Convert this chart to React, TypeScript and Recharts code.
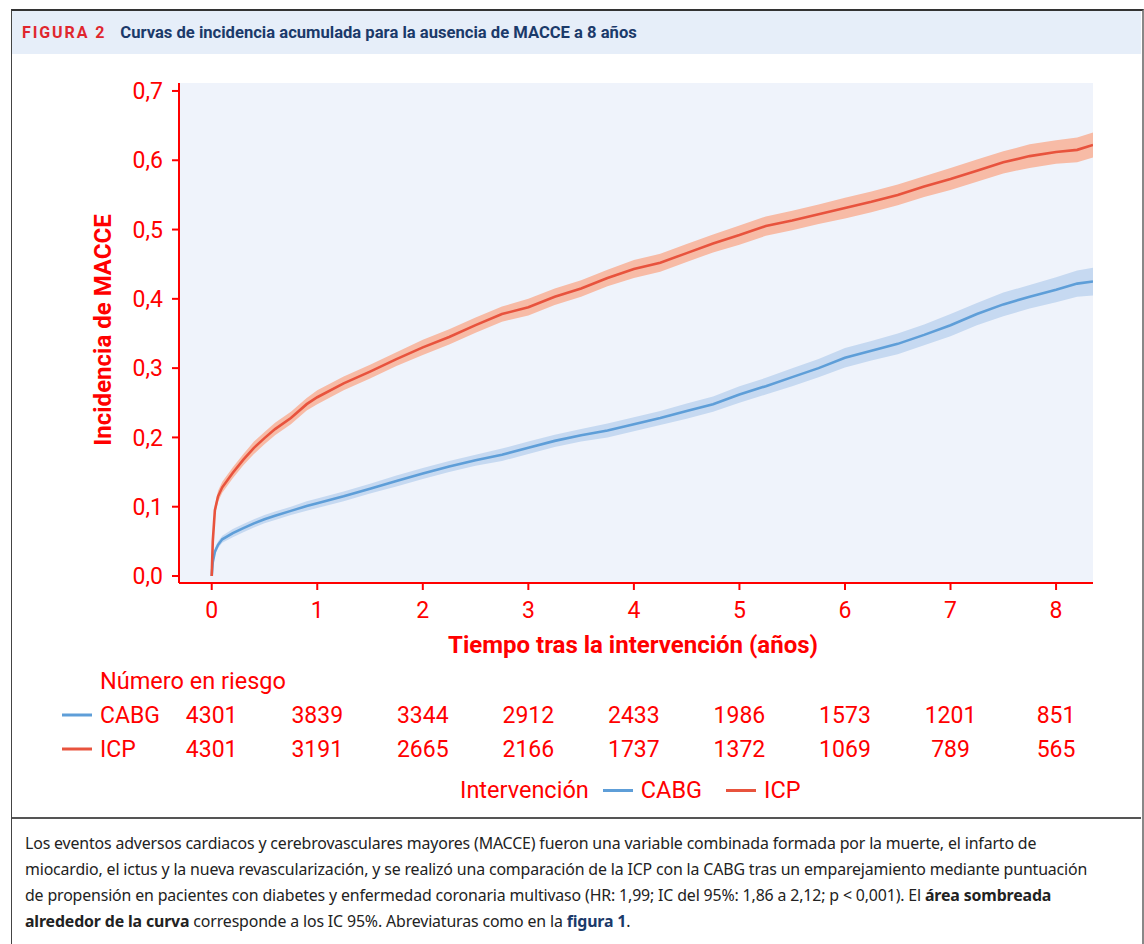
import React from 'react';
import { ComposedChart, Line, Area, XAxis, YAxis, CartesianGrid, Legend } from 'recharts';

const years = [0, 0.01, 0.03, 0.06, 0.1, 0.2, 0.3, 0.4, 0.5, 0.6, 0.75, 0.9, 1.0, 1.25, 1.5, 1.75, 2.0, 2.25, 2.5, 2.75, 3.0, 3.25, 3.5, 3.75, 4.0, 4.25, 4.5, 4.75, 5.0, 5.25, 5.5, 5.75, 6.0, 6.25, 6.5, 6.75, 7.0, 7.25, 7.5, 7.75, 8.0, 8.2, 8.35];
const icpIncidence = [0, 0.05, 0.095, 0.115, 0.128, 0.149, 0.168, 0.185, 0.199, 0.212, 0.228, 0.248, 0.258, 0.278, 0.295, 0.313, 0.33, 0.345, 0.362, 0.378, 0.388, 0.403, 0.415, 0.43, 0.443, 0.452, 0.466, 0.48, 0.492, 0.505, 0.513, 0.522, 0.531, 0.54, 0.55, 0.562, 0.573, 0.585, 0.597, 0.606, 0.612, 0.615, 0.622];
const icpCiHalf = [0, 0.006, 0.007, 0.008, 0.008, 0.008, 0.008, 0.009, 0.009, 0.009, 0.009, 0.009, 0.01, 0.01, 0.01, 0.01, 0.011, 0.011, 0.011, 0.011, 0.012, 0.012, 0.012, 0.012, 0.013, 0.013, 0.013, 0.013, 0.014, 0.014, 0.014, 0.014, 0.015, 0.015, 0.015, 0.015, 0.016, 0.016, 0.016, 0.017, 0.017, 0.018, 0.018];
const cabgIncidence = [0, 0.02, 0.035, 0.045, 0.053, 0.062, 0.069, 0.076, 0.082, 0.087, 0.094, 0.101, 0.105, 0.115, 0.126, 0.137, 0.148, 0.158, 0.167, 0.175, 0.185, 0.195, 0.203, 0.21, 0.219, 0.228, 0.238, 0.248, 0.262, 0.274, 0.287, 0.3, 0.315, 0.325, 0.335, 0.348, 0.362, 0.378, 0.392, 0.403, 0.413, 0.422, 0.425];
const cabgCiHalf = [0, 0.004, 0.005, 0.005, 0.005, 0.006, 0.006, 0.006, 0.006, 0.006, 0.006, 0.007, 0.007, 0.007, 0.007, 0.008, 0.008, 0.008, 0.008, 0.009, 0.009, 0.009, 0.009, 0.01, 0.01, 0.01, 0.011, 0.011, 0.012, 0.012, 0.013, 0.013, 0.014, 0.014, 0.015, 0.015, 0.016, 0.016, 0.017, 0.017, 0.018, 0.019, 0.02];

const xTicks = [0, 1, 2, 3, 4, 5, 6, 7, 8];
const yTicks = [0, 0.1, 0.2, 0.3, 0.4, 0.5, 0.6, 0.7];
const riskCabg = [4301, 3839, 3344, 2912, 2433, 1986, 1573, 1201, 851];
const riskIcp = [4301, 3191, 2665, 2166, 1737, 1372, 1069, 789, 565];

const RED = '#ff0000';
const ICP_LINE = '#e8533d';
const ICP_BAND = '#f7bba6';
const CABG_LINE = '#5e9ed8';
const CABG_BAND = '#c6d9f1';
const FONT = 'Roboto, "Noto Sans", sans-serif';

const data = years.map((t, i) => ({
  t,
  icp: icpIncidence[i],
  icpBand: [icpIncidence[i] - icpCiHalf[i], icpIncidence[i] + icpCiHalf[i]],
  cabg: cabgIncidence[i],
  cabgBand: [cabgIncidence[i] - cabgCiHalf[i], cabgIncidence[i] + cabgCiHalf[i]],
}));

const fmtComma = (v: number) => v.toFixed(1).replace('.', ',');
const xDomain: [number, number] = [-0.31, 8.35];

const YLabel = (props: any) => {
  const vb = props.viewBox || {};
  const x = vb.x + 91;
  const y = vb.y + vb.height / 2 - 3;
  return (
    <text x={x} y={y} transform={`rotate(-90 ${x} ${y})`} textAnchor="middle" dominantBaseline="central"
      fill={RED} fontSize={24} fontWeight={700} fontFamily={FONT}>Incidencia de MACCE</text>
  );
};

const XLabel = (props: any) => {
  const vb = props.viewBox || {};
  return (
    <text x={vb.x + vb.width / 2 - 3} y={vb.y + 62} textAnchor="middle" dominantBaseline="central"
      fill={RED} fontSize={24} fontWeight={700} fontFamily={FONT}>Tiempo tras la intervención (años)</text>
  );
};

const CabgRowLabel = (props: any) => {
  const vb = props.viewBox || {};
  const rowY = vb.y + 47;
  return (
    <g>
      <text x={vb.x - 79} y={vb.y + 13} dominantBaseline="central" fill={RED} fontSize={23.5} fontFamily={FONT}>Número en riesgo</text>
      <line x1={vb.x - 117} x2={vb.x - 87} y1={rowY} y2={rowY} stroke={CABG_LINE} strokeWidth={3} />
      <text x={vb.x - 79} y={rowY} dominantBaseline="central" fill={RED} fontSize={23} fontFamily={FONT}>CABG</text>
    </g>
  );
};

const IcpRowLabel = (props: any) => {
  const vb = props.viewBox || {};
  const rowY = vb.y + 17;
  return (
    <g>
      <line x1={vb.x - 117} x2={vb.x - 87} y1={rowY} y2={rowY} stroke={ICP_LINE} strokeWidth={3} />
      <text x={vb.x - 79} y={rowY} dominantBaseline="central" fill={RED} fontSize={23} fontFamily={FONT}>ICP</text>
    </g>
  );
};

const LegendContent = () => (
  <div style={{ height: 36, display: 'flex', alignItems: 'center', marginLeft: 448, color: RED, fontSize: 23.5, fontFamily: FONT }}>
    <span>Intervención</span>
    <span style={{ display: 'inline-block', width: 30, height: 3, background: CABG_LINE, marginLeft: 14, marginRight: 8 }} />
    <span>CABG</span>
    <span style={{ display: 'inline-block', width: 30, height: 3, background: ICP_LINE, marginLeft: 24, marginRight: 8 }} />
    <span>ICP</span>
  </div>
);

export default function App() {
  return (
    <div style={{ position: 'absolute', left: 0, top: 0, width: 1144, height: 944, background: '#fff', overflow: 'hidden' }}>
      <div style={{ position: 'absolute', left: 11, top: 9, width: 1133, height: 940, borderTop: '2px solid #333', borderLeft: '1px solid #444', borderRight: '2px solid #888', boxSizing: 'border-box' }} />
      <div style={{ position: 'absolute', left: 12, top: 11, width: 1129, height: 43, background: '#e6eef9', display: 'flex', alignItems: 'center', fontFamily: FONT, whiteSpace: 'nowrap' }}>
        <span style={{ marginLeft: 10, color: '#e0262e', fontWeight: 700, fontSize: 16, letterSpacing: 1.9 }}>FIGURA 2</span>
        <span style={{ marginLeft: 14, color: '#1b3a6a', fontWeight: 700, fontSize: 16.6 }}>Curvas de incidencia acumulada para la ausencia de MACCE a 8 años</span>
      </div>
      <div style={{ position: 'absolute', left: 12, top: 55 }}>
        <ComposedChart width={1130} height={762} data={data} margin={{ top: 28, right: 49, bottom: 9, left: 0 }}>
          <CartesianGrid fill="#eff3fb" horizontal={false} vertical={false} />
          <XAxis dataKey="t" type="number" domain={xDomain} ticks={xTicks} allowDataOverflow interval={0}
            axisLine={{ stroke: RED, strokeWidth: 2 }} tickLine={{ stroke: RED, strokeWidth: 2 }}
            tickSize={7} tickMargin={12} height={85}
            tick={{ fill: RED, fontSize: 23, fontFamily: FONT }}
            label={<XLabel />} />
          <XAxis xAxisId="riskCabg" dataKey="t" type="number" domain={xDomain} ticks={xTicks} allowDataOverflow interval={0}
            axisLine={false} tickLine={false} tickSize={0} tickMargin={39} height={64}
            tickFormatter={(v: number) => String(riskCabg[Math.round(v)])}
            tick={{ fill: RED, fontSize: 23, fontFamily: FONT }}
            label={<CabgRowLabel />} />
          <XAxis xAxisId="riskIcp" dataKey="t" type="number" domain={xDomain} ticks={xTicks} allowDataOverflow interval={0}
            axisLine={false} tickLine={false} tickSize={0} tickMargin={9} height={40}
            tickFormatter={(v: number) => String(riskIcp[Math.round(v)])}
            tick={{ fill: RED, fontSize: 23, fontFamily: FONT }}
            label={<IcpRowLabel />} />
          <YAxis type="number" domain={[-0.0101, 0.7115]} ticks={yTicks} allowDataOverflow width={167}
            axisLine={{ stroke: RED, strokeWidth: 2 }} tickLine={{ stroke: RED, strokeWidth: 2 }}
            tickSize={7} tickMargin={9} tickFormatter={fmtComma}
            tick={{ fill: RED, fontSize: 23, fontFamily: FONT }}
            label={<YLabel />} />
          <Legend verticalAlign="bottom" align="left" content={<LegendContent />} />
          <Area type="linear" dataKey="cabgBand" stroke="none" fill={CABG_BAND} fillOpacity={1} isAnimationActive={false} legendType="none" />
          <Area type="linear" dataKey="icpBand" stroke="none" fill={ICP_BAND} fillOpacity={1} isAnimationActive={false} legendType="none" />
          <Line type="linear" dataKey="cabg" stroke={CABG_LINE} strokeWidth={2.6} dot={false} isAnimationActive={false} />
          <Line type="linear" dataKey="icp" stroke={ICP_LINE} strokeWidth={2.6} dot={false} isAnimationActive={false} />
        </ComposedChart>
      </div>
      <div style={{ position: 'absolute', left: 12, top: 817, width: 1129, height: 2, background: '#555' }} />
      <div style={{ position: 'absolute', left: 25, top: 830, fontFamily: '"Noto Sans", sans-serif', fontSize: 15.9, lineHeight: '26px', color: '#222', whiteSpace: 'nowrap', letterSpacing: -0.15 }}>
        <div>Los eventos adversos cardiacos y cerebrovasculares mayores (MACCE) fueron una variable combinada formada por la muerte, el infarto de</div>
        <div>miocardio, el ictus y la nueva revascularización, y se realizó una comparación de la ICP con la CABG tras un emparejamiento mediante puntuación</div>
        <div>de propensión en pacientes con diabetes y enfermedad coronaria multivaso (HR: 1,99; IC del 95%: 1,86 a 2,12; p &lt; 0,001). El <b>área sombreada</b></div>
        <div><b>alrededor de la curva</b> corresponde a los IC 95%. Abreviaturas como en la <b style={{ color: '#1b3a6a' }}>figura 1</b>.</div>
      </div>
    </div>
  );
}
